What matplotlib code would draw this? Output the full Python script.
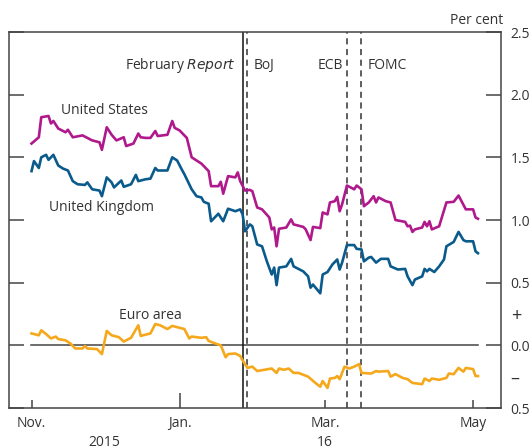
import matplotlib
matplotlib.use("Agg")
import matplotlib.pyplot as plt
import pandas as pd

# ── data ────────────────────────────────────────────────────────────────────
us_dates = ["2015-11-01", "2015-11-04", "2015-11-05", "2015-11-08", "2015-11-09", "2015-11-10",
            "2015-11-12", "2015-11-15", "2015-11-16", "2015-11-18", "2015-11-22", "2015-11-26",
            "2015-11-29", "2015-11-30", "2015-12-02", "2015-12-04", "2015-12-06", "2015-12-09",
            "2015-12-10", "2015-12-13", "2015-12-15", "2015-12-16", "2015-12-18", "2015-12-20",
            "2015-12-22", "2015-12-23", "2015-12-27", "2015-12-29", "2015-12-30", "2016-01-01",
            "2016-01-04", "2016-01-06", "2016-01-10", "2016-01-13", "2016-01-14", "2016-01-17",
            "2016-01-18", "2016-01-19", "2016-01-21", "2016-01-24", "2016-01-25", "2016-01-26",
            "2016-01-28", "2016-01-30", "2016-01-31", "2016-02-02", "2016-02-04", "2016-02-07",
            "2016-02-08", "2016-02-09", "2016-02-10", "2016-02-11", "2016-02-14", "2016-02-16",
            "2016-02-17", "2016-02-21", "2016-02-22", "2016-02-24", "2016-02-25", "2016-02-28",
            "2016-02-29", "2016-03-02", "2016-03-03", "2016-03-05", "2016-03-06", "2016-03-07",
            "2016-03-08", "2016-03-10", "2016-03-13", "2016-03-14", "2016-03-16", "2016-03-17",
            "2016-03-19", "2016-03-21", "2016-03-22", "2016-03-23", "2016-03-26", "2016-03-28",
            "2016-03-30", "2016-04-03", "2016-04-04", "2016-04-05", "2016-04-06", "2016-04-07",
            "2016-04-10", "2016-04-11", "2016-04-12", "2016-04-13", "2016-04-14", "2016-04-17",
            "2016-04-20", "2016-04-23", "2016-04-25", "2016-04-28", "2016-05-01", "2016-05-02",
            "2016-05-03"]
us_vals = [1.61, 1.66, 1.82, 1.83, 1.77, 1.79,
           1.73, 1.70, 1.72, 1.66, 1.675, 1.635,
           1.62, 1.56, 1.74, 1.68, 1.635, 1.66,
           1.59, 1.61, 1.69, 1.66, 1.655, 1.655,
           1.71, 1.67, 1.68, 1.79, 1.735, 1.715,
           1.655, 1.50, 1.45, 1.39, 1.27, 1.27,
           1.305, 1.21, 1.35, 1.34, 1.38, 1.31,
           1.235, 1.24, 1.23, 1.10, 1.085, 1.02,
           0.925, 0.94, 0.79, 0.93, 0.94, 1.005,
           0.965, 0.945, 0.925, 0.84, 0.945, 0.935,
           1.06, 1.045, 1.14, 1.15, 1.185, 1.07,
           1.125, 1.275, 1.245, 1.275, 1.245, 1.11,
           1.14, 1.19, 1.14, 1.18, 1.15, 1.14,
           1.00, 0.985, 0.95, 0.955, 0.905, 0.925,
           0.94, 0.985, 0.95, 0.99, 0.925, 0.95,
           1.14, 1.145, 1.195, 1.085, 1.085, 1.02,
           1.01]

uk_dates = ["2015-11-01", "2015-11-02", "2015-11-04", "2015-11-05", "2015-11-07", "2015-11-08",
            "2015-11-10", "2015-11-12", "2015-11-14", "2015-11-16", "2015-11-18", "2015-11-20",
            "2015-11-23", "2015-11-24", "2015-11-26", "2015-11-29", "2015-11-30", "2015-12-02",
            "2015-12-04", "2015-12-05", "2015-12-08", "2015-12-09", "2015-12-12", "2015-12-14",
            "2015-12-15", "2015-12-18", "2015-12-20", "2015-12-22", "2015-12-23", "2015-12-27",
            "2015-12-29", "2015-12-31", "2016-01-02", "2016-01-03", "2016-01-06", "2016-01-08",
            "2016-01-10", "2016-01-11", "2016-01-13", "2016-01-14", "2016-01-17", "2016-01-19",
            "2016-01-21", "2016-01-24", "2016-01-26", "2016-01-27", "2016-01-28", "2016-01-30",
            "2016-01-31", "2016-02-02", "2016-02-04", "2016-02-06", "2016-02-08", "2016-02-09",
            "2016-02-10", "2016-02-11", "2016-02-14", "2016-02-16", "2016-02-17", "2016-02-21",
            "2016-02-23", "2016-02-24", "2016-02-25", "2016-02-28", "2016-02-29", "2016-03-02",
            "2016-03-04", "2016-03-06", "2016-03-07", "2016-03-08", "2016-03-10", "2016-03-13",
            "2016-03-14", "2016-03-16", "2016-03-17", "2016-03-19", "2016-03-20", "2016-03-22",
            "2016-03-24", "2016-03-27", "2016-03-28", "2016-03-31", "2016-04-03", "2016-04-04",
            "2016-04-06", "2016-04-07", "2016-04-10", "2016-04-11", "2016-04-12", "2016-04-13",
            "2016-04-15", "2016-04-17", "2016-04-19", "2016-04-20", "2016-04-23", "2016-04-25",
            "2016-04-27", "2016-04-28", "2016-05-01", "2016-05-02", "2016-05-03"]
uk_vals = [1.39, 1.47, 1.415, 1.50, 1.52, 1.48,
           1.52, 1.435, 1.41, 1.395, 1.31, 1.285,
           1.28, 1.30, 1.245, 1.235, 1.19, 1.34,
           1.30, 1.26, 1.315, 1.265, 1.285, 1.36,
           1.31, 1.325, 1.33, 1.415, 1.395, 1.395,
           1.50, 1.475, 1.40, 1.365, 1.245, 1.19,
           1.18, 1.145, 1.13, 0.99, 1.05, 0.99,
           1.09, 1.07, 1.085, 1.045, 0.91, 0.965,
           0.95, 0.805, 0.79, 0.67, 0.565, 0.62,
           0.48, 0.62, 0.63, 0.69, 0.63, 0.59,
           0.55, 0.46, 0.485, 0.415, 0.565, 0.585,
           0.645, 0.685, 0.605, 0.66, 0.80, 0.80,
           0.77, 0.765, 0.67, 0.70, 0.705, 0.66,
           0.69, 0.69, 0.63, 0.605, 0.61, 0.55,
           0.48, 0.525, 0.55, 0.61, 0.59, 0.61,
           0.585, 0.63, 0.685, 0.79, 0.825, 0.905,
           0.84, 0.83, 0.83, 0.75, 0.735]

ea_dates = ["2015-11-01", "2015-11-04", "2015-11-05", "2015-11-07", "2015-11-09", "2015-11-11",
            "2015-11-12", "2015-11-15", "2015-11-17", "2015-11-19", "2015-11-22", "2015-11-23",
            "2015-11-24", "2015-11-28", "2015-11-30", "2015-12-02", "2015-12-04", "2015-12-07",
            "2015-12-09", "2015-12-12", "2015-12-15", "2015-12-16", "2015-12-20", "2015-12-22",
            "2015-12-24", "2015-12-27", "2015-12-29", "2015-12-31", "2016-01-03", "2016-01-05",
            "2016-01-06", "2016-01-10", "2016-01-12", "2016-01-13", "2016-01-15", "2016-01-18",
            "2016-01-20", "2016-01-21", "2016-01-24", "2016-01-26", "2016-01-27", "2016-01-29",
            "2016-01-31", "2016-02-02", "2016-02-05", "2016-02-08", "2016-02-10", "2016-02-11",
            "2016-02-13", "2016-02-15", "2016-02-17", "2016-02-19", "2016-02-23", "2016-02-26",
            "2016-02-28", "2016-02-29", "2016-03-02", "2016-03-03", "2016-03-05", "2016-03-06",
            "2016-03-07", "2016-03-09", "2016-03-11", "2016-03-13", "2016-03-15", "2016-03-16",
            "2016-03-20", "2016-03-22", "2016-03-23", "2016-03-27", "2016-03-28", "2016-03-30",
            "2016-04-02", "2016-04-04", "2016-04-06", "2016-04-10", "2016-04-11", "2016-04-13",
            "2016-04-14", "2016-04-17", "2016-04-20", "2016-04-21", "2016-04-23", "2016-04-25",
            "2016-04-27", "2016-04-28", "2016-05-01", "2016-05-02", "2016-05-03"]
ea_vals = [0.095, 0.08, 0.12, 0.09, 0.055, 0.07,
           0.05, 0.04, 0.015, -0.025, -0.025, -0.005,
           -0.025, -0.03, -0.07, 0.115, 0.08, 0.065,
           0.03, 0.06, 0.16, 0.075, 0.095, 0.17,
           0.16, 0.13, 0.155, 0.145, 0.13, 0.055,
           0.07, 0.06, 0.065, 0.035, 0.02, 0.00,
           -0.095, -0.07, -0.065, -0.085, -0.12, -0.18,
           -0.17, -0.205, -0.195, -0.185, -0.22, -0.185,
           -0.195, -0.185, -0.22, -0.22, -0.25, -0.30,
           -0.33, -0.285, -0.34, -0.265, -0.26, -0.245,
           -0.27, -0.17, -0.185, -0.17, -0.15, -0.22,
           -0.225, -0.205, -0.21, -0.205, -0.25, -0.23,
           -0.26, -0.27, -0.30, -0.31, -0.265, -0.285,
           -0.265, -0.275, -0.26, -0.225, -0.23, -0.18,
           -0.21, -0.18, -0.19, -0.245, -0.245]

# event lines
report_date = "2016-01-27"
dashed_events = ["2016-01-29", "2016-03-10", "2016-03-16"]   # BoJ, ECB, FOMC

month_ticks = ["2015-11-01", "2016-01-01", "2016-03-01", "2016-05-01"]
month_labels = ["Nov.", "Jan.", "Mar.", "May"]
yticks = [-0.5, -0.25, 0.0, 0.25, 0.5, 1.0, 1.5, 2.0, 2.5]
ytick_labels = ["0.5", "\u2013", "0.0", "+", "0.5", "1.0", "1.5", "2.0", "2.5"]

# ── figure ──────────────────────────────────────────────────────────────────
plt.rcParams["font.family"] = ["Open Sans", "DejaVu Sans"]
txt = "#333333"
fs = 10
c_us, c_uk, c_ea = "#b0198b", "#0a5a8c", "#f5a81c"

fig = plt.figure(figsize=(5.32, 4.48), dpi=100)
ax = fig.add_axes([9 / 532, 1 - 408 / 448, 492 / 532, 376 / 448])

lw = 1.9
ax.plot(pd.to_datetime(us_dates), us_vals, color=c_us, lw=lw, zorder=3)
ax.plot(pd.to_datetime(uk_dates), uk_vals, color=c_uk, lw=lw, zorder=3)
ax.plot(pd.to_datetime(ea_dates), ea_vals, color=c_ea, lw=lw, zorder=3)

ax.axvline(pd.Timestamp(report_date), color="#111111", lw=1.1, zorder=2)
for d in dashed_events:
    ax.axvline(pd.Timestamp(d), color="#333333", lw=1.1, ls=(0, (4, 3)), zorder=2)
ax.axhline(0, xmin=0.045, xmax=0.953, color="#444444", lw=1.1, zorder=1)

ax.set_xlim(pd.Timestamp("2015-10-22 17:00"), pd.Timestamp("2016-05-12 12:00"))
ax.set_ylim(-0.5, 2.5)

# y axis: ticks both sides pointing in, labels on the right
ax.set_yticks(yticks)
ax.set_yticklabels(ytick_labels)
ax.yaxis.tick_right()
ax.tick_params(axis="y", direction="in", length=11, width=1.1, color="#444444",
               left=True, right=True, labelleft=False, labelright=True,
               labelsize=fs, labelcolor=txt, pad=7)
for t, v in zip(ax.yaxis.get_major_ticks(), yticks):
    if v in (-0.25, 0.25):
        t.tick1line.set_visible(False)
        t.tick2line.set_visible(False)
        t.label2.set_fontsize(13)

# x axis: short month ticks, long tick at the year boundary
ax.set_xticks(pd.to_datetime(month_ticks))
ax.set_xticklabels(month_labels)
ax.tick_params(axis="x", direction="in", length=6, width=1.1, color="#444444",
               labelsize=fs, labelcolor=txt, pad=6)
ax.get_xticklines()[2].set_markersize(11)

for s in ax.spines.values():
    s.set_color("#444444")
    s.set_linewidth(1.1)

# year labels under the months
for label, d in [("2015", "2015-12-01"), ("16", "2016-03-01")]:
    ax.annotate(label, xy=(pd.Timestamp(d), 0), xycoords=("data", "axes fraction"),
                xytext=(0, -34), textcoords="offset pixels", ha="center", va="center",
                fontsize=fs, color=txt)

# units
fig.text(503 / 532, 1 - 20 / 448, "Per cent", ha="right", va="center", fontsize=fs, color=txt)

# event labels
ylab = 2.23
ax.text(pd.Timestamp("2016-01-24"), ylab, "February $\\it{Report}$", ha="right", va="center",
        fontsize=fs, color=txt)
ax.text(pd.Timestamp("2016-01-31 12:00"), ylab, "BoJ", ha="left", va="center", fontsize=fs, color=txt)
ax.text(pd.Timestamp("2016-03-08 12:00"), ylab, "ECB", ha="right", va="center", fontsize=fs, color=txt)
ax.text(pd.Timestamp("2016-03-18 12:00"), ylab, "FOMC", ha="left", va="center", fontsize=fs, color=txt)

# series labels
ax.text(pd.Timestamp("2015-12-01"), 1.87, "United States", ha="center", va="center",
        fontsize=fs, color=txt)
ax.text(pd.Timestamp("2015-11-30"), 1.10, "United Kingdom", ha="center", va="center",
        fontsize=fs, color=txt)
ax.text(pd.Timestamp("2015-12-20"), 0.24, "Euro area", ha="center", va="center",
        fontsize=fs, color=txt)

fig.savefig("out.png", dpi=100)
